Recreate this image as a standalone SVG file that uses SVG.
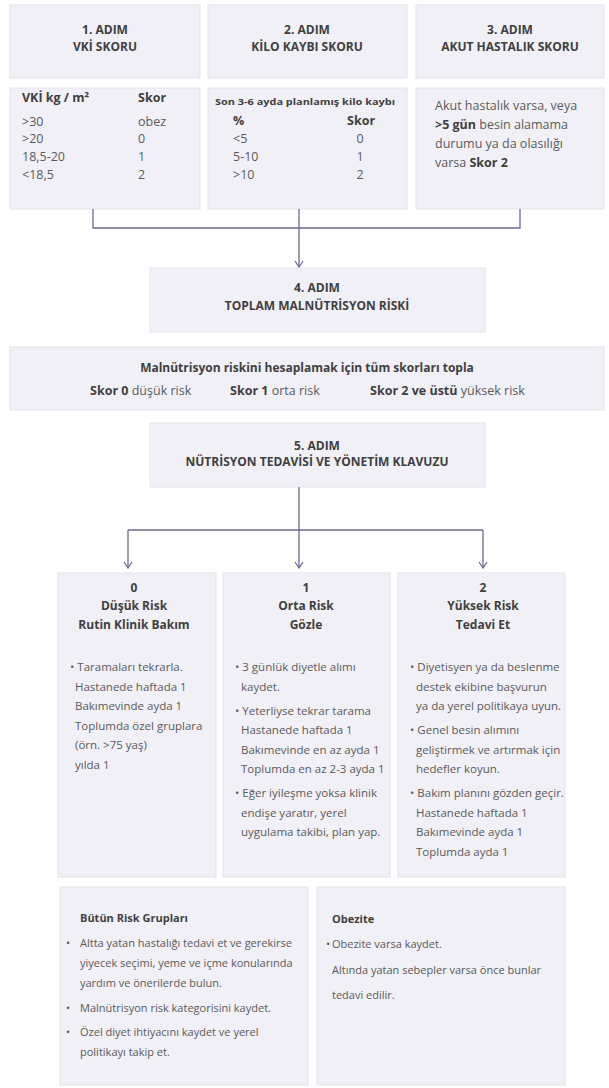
<svg xmlns="http://www.w3.org/2000/svg" width="609" height="1088" viewBox="0 0 609 1088">
<style>
.box{fill:#f1f0f6;stroke:#e4e3eb;stroke-width:1}
text{font-family:'Open Sans','Noto Sans','DejaVu Sans',sans-serif}
.h{font-weight:700;fill:#3f3f3f;font-size:12px;text-anchor:middle}
.t{fill:#5a5a5a;font-size:11.5px}
.u{fill:#5a5a5a;font-size:11px}
.s{fill:#5a5a5a;font-size:12.5px}
.m{text-anchor:middle}
.b{font-weight:700;fill:#3f3f3f}
.c{fill:none;stroke:#6e6898;stroke-width:1.3}
.ah{fill:none;stroke:#6e6898;stroke-width:1.3}
</style>
<defs>
<marker id="arr" viewBox="0 0 10 10" refX="9" refY="5" markerWidth="10" markerHeight="10" markerUnits="userSpaceOnUse" orient="auto">
<path class="ah" d="M3,1 L9,5 L3,9"/>
</marker>
</defs>

<g id="step1">
<rect class="box" x="10" y="5" width="190" height="73"/>
<text class="h" x="105" y="34">1. ADIM</text>
<text class="h" x="105" y="51">VKİ SKORU</text>
</g>
<g id="step2">
<rect class="box" x="208" y="5" width="199" height="73"/>
<text class="h" x="307" y="34">2. ADIM</text>
<text class="h" x="307" y="51">KİLO KAYBI SKORU</text>
</g>
<g id="step3">
<rect class="box" x="416" y="5" width="188" height="73"/>
<text class="h" x="510" y="34">3. ADIM</text>
<text class="h" x="510" y="51">AKUT HASTALIK SKORU</text>
</g>

<g id="score1">
<rect class="box" x="10" y="88" width="190" height="121"/>
<text class="s b" x="22" y="102">VKİ kg / m²</text>
<text class="s b" x="138" y="102">Skor</text>
<text class="s" x="22" y="126">&gt;30</text><text class="s" x="138" y="126">obez</text>
<text class="s" x="22" y="143">&gt;20</text><text class="s" x="138" y="143">0</text>
<text class="s" x="22" y="161">18,5-20</text><text class="s" x="138" y="161">1</text>
<text class="s" x="22" y="179">&lt;18,5</text><text class="s" x="138" y="179">2</text>
</g>
<g id="score2">
<rect class="box" x="208" y="88" width="199" height="121"/>
<text class="b" x="215" y="105" font-size="8" textLength="180" lengthAdjust="spacingAndGlyphs">Son 3-6 ayda planlamış kilo kaybı</text>
<text class="s b" x="233" y="125">%</text>
<text class="s b" x="347" y="125">Skor</text>
<text class="s" x="233" y="143">&lt;5</text><text class="s m" x="360" y="143">0</text>
<text class="s" x="233" y="161">5-10</text><text class="s m" x="360" y="161">1</text>
<text class="s" x="233" y="179">&gt;10</text><text class="s m" x="360" y="179">2</text>
</g>
<g id="score3">
<rect class="box" x="416" y="88" width="188" height="121"/>
<text class="s" x="435" y="110" font-size="13.5">Akut hastalık varsa, veya</text>
<text class="s" x="435" y="129" font-size="13.5"><tspan class="b">&gt;5 gün</tspan> besin alamama</text>
<text class="s" x="435" y="148" font-size="13.5">durumu ya da olasılığı</text>
<text class="s" x="435" y="167" font-size="13.5">varsa  <tspan class="b">Skor 2</tspan></text>
</g>

<g id="step4">
<rect class="box" x="150" y="268" width="335" height="64"/>
<text class="h" x="317" y="292">4. ADIM</text>
<text class="h" x="317" y="310">TOPLAM MALNÜTRİSYON RİSKİ</text>
</g>

<g id="total">
<rect class="box" x="10" y="347" width="594" height="63"/>
<text class="h" x="307" y="372" font-size="13">Malnütrisyon riskini hesaplamak için tüm skorları topla</text>
<text class="s" x="90" y="395"><tspan class="b">Skor 0</tspan> düşük risk</text>
<text class="s" x="230" y="395"><tspan class="b">Skor 1</tspan> orta risk</text>
<text class="s" x="370" y="395"><tspan class="b">Skor 2 ve üstü</tspan> yüksek risk</text>
</g>

<g id="step5">
<rect class="box" x="150" y="423" width="335" height="64"/>
<text class="h" x="317" y="450">5. ADIM</text>
<text class="h" x="317" y="466">NÜTRİSYON TEDAVİSİ VE YÖNETİM KLAVUZU</text>
</g>

<g id="risk0">
<rect class="box" x="58" y="573" width="158" height="304"/>
<text class="h" x="134" y="592">0</text>
<text class="h" x="134" y="610">Düşük Risk</text>
<text class="h" x="134" y="629">Rutin Klinik Bakım</text>
<text class="t" x="70" y="671">• Taramaları tekrarla.</text>
<text class="t" x="75" y="691">Hastanede haftada 1</text>
<text class="t" x="75" y="710">Bakımevinde ayda 1</text>
<text class="t" x="75" y="730">Toplumda özel gruplara</text>
<text class="t" x="75" y="749">(örn. &gt;75 yaş)</text>
<text class="t" x="75" y="769">yılda 1</text>
</g>
<g id="risk1">
<rect class="box" x="223" y="573" width="167" height="304"/>
<text class="h" x="306" y="592">1</text>
<text class="h" x="306" y="610">Orta Risk</text>
<text class="h" x="306" y="629">Gözle</text>
<text class="t" x="235" y="671">• 3 günlük diyetle alımı</text>
<text class="t" x="241" y="691">kaydet.</text>
<text class="t" x="235" y="715">• Yeterliyse tekrar tarama</text>
<text class="t" x="241" y="734">Hastanede haftada 1</text>
<text class="t" x="241" y="754">Bakımevinde en az ayda 1</text>
<text class="t" x="241" y="773">Toplumda en az 2-3 ayda 1</text>
<text class="t" x="235" y="797">• Eğer iyileşme yoksa klinik</text>
<text class="t" x="241" y="817">endişe yaratır, yerel</text>
<text class="t" x="241" y="836">uygulama takibi, plan yap.</text>
</g>
<g id="risk2">
<rect class="box" x="398" y="573" width="167" height="304"/>
<text class="h" x="483" y="592">2</text>
<text class="h" x="483" y="610">Yüksek Risk</text>
<text class="h" x="483" y="629">Tedavi Et</text>
<text class="t" x="410" y="671">• Diyetisyen ya da beslenme</text>
<text class="t" x="416" y="691">destek ekibine başvurun</text>
<text class="t" x="416" y="710">ya da yerel politikaya uyun.</text>
<text class="t" x="410" y="734">• Genel besin alımını</text>
<text class="t" x="416" y="754">geliştirmek ve artırmak için</text>
<text class="t" x="416" y="773">hedefler koyun.</text>
<text class="t" x="410" y="797">• Bakım planını gözden geçir.</text>
<text class="t" x="416" y="817">Hastanede haftada 1</text>
<text class="t" x="416" y="836">Bakımevinde ayda 1</text>
<text class="t" x="416" y="856">Toplumda ayda 1</text>
</g>

<g id="allgroups">
<rect class="box" x="60" y="887" width="248" height="198"/>
<text class="u b" x="80" y="922">Bütün Risk Grupları</text>
<text class="u" x="66" y="947">•</text><text class="u" x="80" y="947">Altta yatan hastalığı tedavi et ve gerekirse</text>
<text class="u" x="80" y="967">yiyecek seçimi, yeme ve içme konularında</text>
<text class="u" x="80" y="987">yardım ve önerilerde bulun.</text>
<text class="u" x="66" y="1012">•</text><text class="u" x="80" y="1012">Malnütrisyon risk kategorisini kaydet.</text>
<text class="u" x="66" y="1036">•</text><text class="u" x="80" y="1036">Özel diyet ihtiyacını kaydet ve yerel</text>
<text class="u" x="80" y="1056">politikayı takip et.</text>
</g>
<g id="obezite">
<rect class="box" x="317" y="887" width="248" height="198"/>
<text class="u b" x="332" y="923">Obezite</text>
<text class="u" x="326" y="948">•</text><text class="u" x="332" y="948">Obezite varsa kaydet.</text>
<text class="u" x="332" y="974">Altında yatan sebepler varsa önce bunlar</text>
<text class="u" x="332" y="999">tedavi edilir.</text>
</g>

<g id="connectors">
<path class="c" d="M93,209 V228 H520 V209"/>
<path class="c" d="M299,209 V267" marker-end="url(#arr)"/>
<path class="c" d="M299,487 V568" marker-end="url(#arr)"/>
<path class="c" d="M128,530 H483"/>
<path class="c" d="M128,530 V568" marker-end="url(#arr)"/>
<path class="c" d="M483,530 V568" marker-end="url(#arr)"/>
</g>
</svg>
